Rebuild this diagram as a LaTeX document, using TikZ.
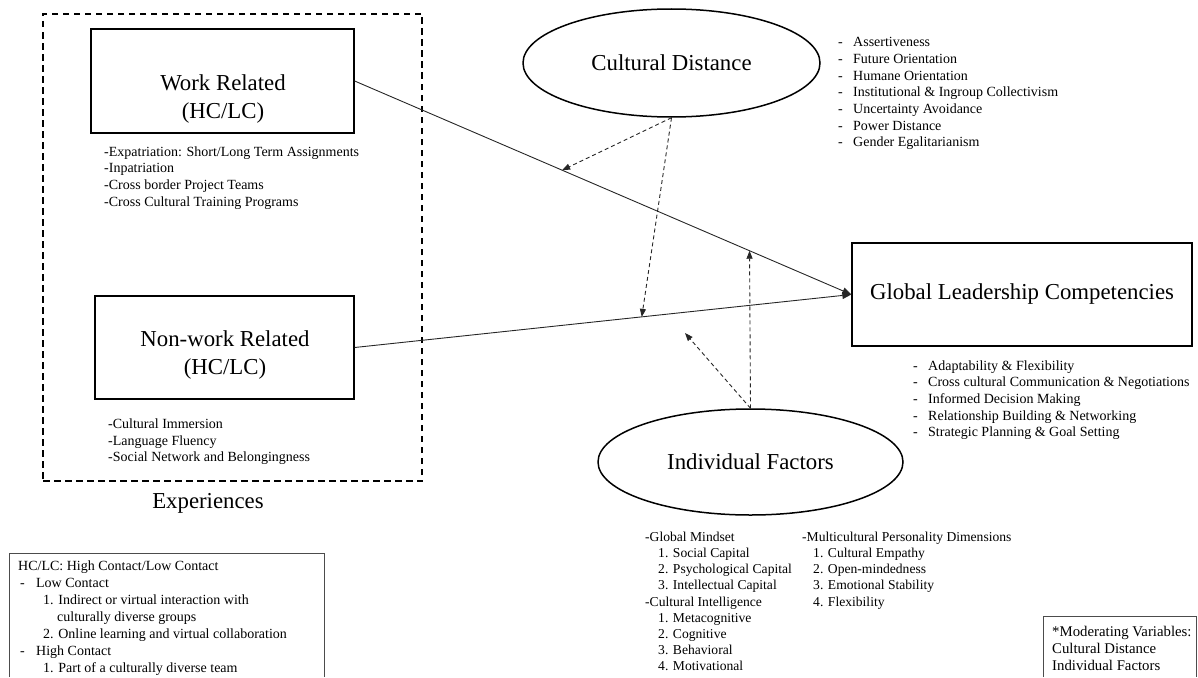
\documentclass[tikz,border=0pt]{standalone}
\usepackage{fontspec}
\setmainfont{Liberation Serif}
\usetikzlibrary{arrows.meta,shapes.geometric,calc}

\begin{document}
\begin{tikzpicture}[x=1pt,y=-1pt,
  boxnode/.style={draw, line width=1.3pt, rectangle, inner sep=0pt},
  oval/.style={draw, line width=1.5pt, ellipse, inner sep=0pt,
    font=\fontsize{22.8}{28}\selectfont},
  big/.style={font=\fontsize{22.8}{28}\selectfont, inner sep=0pt},
  listtxt/.style={font=\fontsize{14}{16.7}\selectfont, align=left,
    inner sep=0pt, anchor=north west},
  iftxt/.style={font=\fontsize{13.6}{16.2}\selectfont, align=left,
    inner sep=0pt, anchor=north west},
  legendtxt/.style={font=\fontsize{14}{17}\selectfont, align=left,
    inner sep=0pt, anchor=north west},
  modtxt/.style={font=\fontsize{14.8}{17}\selectfont, align=left,
    inner sep=0pt, anchor=north west},
  legendbox/.style={draw=black!70, line width=1pt},
  flow/.style={draw=black!85, line width=0.9pt,
    -{Triangle[length=9pt,width=7pt]}},
  modarrow/.style={draw=black!85, line width=0.9pt,
    dash pattern=on 4pt off 3pt, -{Triangle[length=8pt,width=6pt]}},
  groupbox/.style={draw, line width=1.6pt, dash pattern=on 6.5pt off 4.5pt,
    rectangle, inner sep=0pt}
]
\useasboundingbox (0,0) rectangle (1198,677);

% experiences group
\node[groupbox, minimum width=379pt, minimum height=467pt] (exp) at (232.5,247.5) {};
\node[big, anchor=base] (explabel) at (208,508) {Experiences};

\node[boxnode, minimum width=263pt, minimum height=104pt] (work) at (222.5,81) {};
\node[big, align=center, anchor=north] (worktxt) at (223,70.4)
  {\strut Work Related\\(HC/LC)};
\node[listtxt] (worklist) at (104,144.3)
  {\strut -Expatriation: Short/Long Term Assignments\\
   -Inpatriation\\
   -Cross border Project Teams\\
   -Cross Cultural Training Programs};

\node[boxnode, minimum width=259pt, minimum height=103pt] (nonwork) at (224.5,347.5) {};
\node[big, align=center, anchor=north] (nonworktxt) at (225,326.4)
  {\strut Non-work Related\\(HC/LC)};
\node[listtxt] (nonworklist) at (108,416.6)
  {\strut -Cultural Immersion\\
   -Language Fluency\\
   -Social Network and Belongingness};

% moderators
\node[oval, minimum width=297pt, minimum height=108pt] (cd) at (671.5,63) {Cultural Distance};
\node[listtxt] (cdlist) at (838,34.8)
  {\strut\makebox[15pt][l]{-}Assertiveness\\
   \makebox[15pt][l]{-}Future Orientation\\
   \makebox[15pt][l]{-}Humane Orientation\\
   \makebox[15pt][l]{-}Institutional \& Ingroup Collectivism\\
   \makebox[15pt][l]{-}Uncertainty Avoidance\\
   \makebox[15pt][l]{-}Power Distance\\
   \makebox[15pt][l]{-}Gender Egalitarianism};

\node[oval, minimum width=305pt, minimum height=106pt] (if) at (750.5,462) {Individual Factors};
\node[iftxt] (iflistA) at (645,529.7)
  {\strut -Global Mindset\\
   \hspace*{13pt}1. Social Capital\\
   \hspace*{13pt}2. Psychological Capital\\
   \hspace*{13pt}3. Intellectual Capital\\
   -Cultural Intelligence\\
   \hspace*{13pt}1. Metacognitive\\
   \hspace*{13pt}2. Cognitive\\
   \hspace*{13pt}3. Behavioral\\
   \hspace*{13pt}4. Motivational};
\node[iftxt] (iflistB) at (802,529.7)
  {\strut -Multicultural Personality Dimensions\\
   \hspace*{11pt}1. Cultural Empathy\\
   \hspace*{11pt}2. Open-mindedness\\
   \hspace*{11pt}3. Emotional Stability\\
   \hspace*{11pt}4. Flexibility};

% outcome
\node[boxnode, minimum width=340pt, minimum height=103pt,
  font=\fontsize{22.8}{28}\selectfont] (glc) at (1022,294.5) {Global Leadership Competencies};
\node[listtxt] (glclist) at (913,358.3)
  {\strut\makebox[15pt][l]{-}Adaptability \& Flexibility\\
   \makebox[15pt][l]{-}Cross cultural Communication \& Negotiations\\
   \makebox[15pt][l]{-}Informed Decision Making\\
   \makebox[15pt][l]{-}Relationship Building \& Networking\\
   \makebox[15pt][l]{-}Strategic Planning \& Goal Setting};

% direct paths
\draw[flow] (work.east) -- (glc.west);
\draw[flow] (nonwork.east) -- (glc.west);

% moderating paths
\coordinate (onwork) at ($(work.east)!0.4177!(glc.west)$);
\coordinate (onnonwork) at ($(nonwork.east)!0.578!(glc.west)$);
\coordinate (onworkb) at ($(work.east)!0.795!(glc.west)$);
\coordinate (ifend) at (685,333);
\draw[modarrow] (cd.south) -- (onwork);
\draw[modarrow] (cd.south) -- (onnonwork);
\draw[modarrow] (if.north) -- (onworkb);
\draw[modarrow] (if.north) -- (ifend);

% legends
\node[legendtxt] (legend) at (18,558.1)
  {\strut HC/LC: High Contact/Low Contact\\
   \hspace*{2pt}\makebox[16pt][l]{-}Low Contact\\
   \hspace*{25pt}1. Indirect or virtual interaction with\\
   \hspace*{39pt}culturally diverse groups\\
   \hspace*{25pt}2. Online learning and virtual collaboration\\
   \hspace*{2pt}\makebox[16pt][l]{-}High Contact\\
   \hspace*{25pt}1. Part of a culturally diverse team};
\draw[legendbox] (9,677) -- (9,553) -- (324,553) -- (324,677);

\node[modtxt] (modnote) at (1052,624.8)
  {\strut *Moderating Variables:\\
   Cultural Distance\\
   Individual Factors};
\draw[legendbox] (1043,677) -- (1043,616) -- (1196.5,616) -- (1196.5,677);
\end{tikzpicture}
\end{document}
